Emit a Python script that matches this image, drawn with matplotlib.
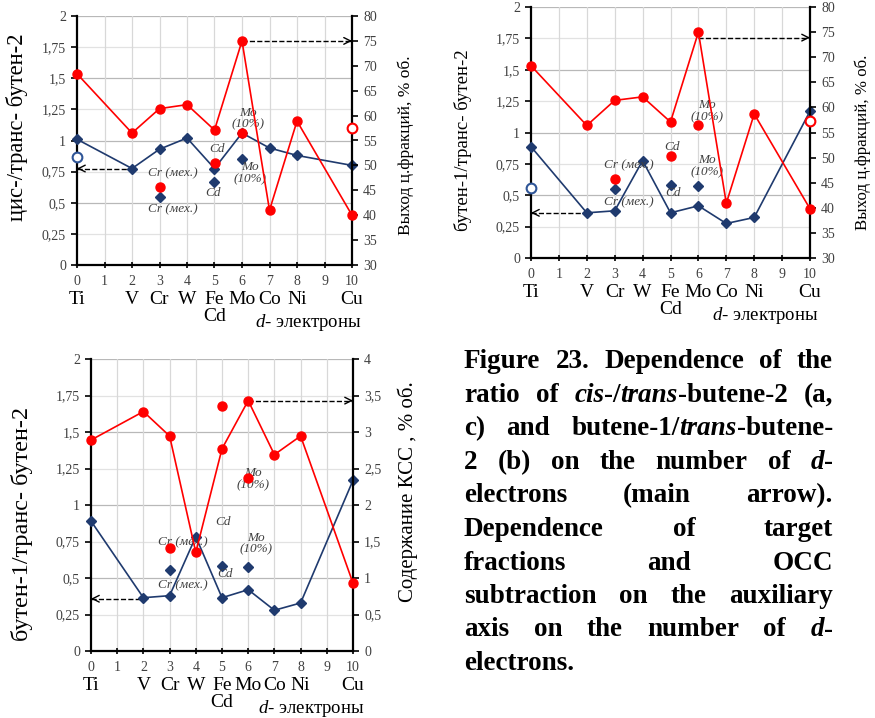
import numpy as np
import matplotlib.pyplot as plt
from matplotlib.ticker import FuncFormatter, MultipleLocator

plt.rcParams['font.family'] = ['Liberation Serif', 'DejaVu Serif']
plt.rcParams['mathtext.fontset'] = 'custom'
plt.rcParams['mathtext.rm'] = 'Liberation Serif'
plt.rcParams['mathtext.it'] = 'Liberation Serif:italic'

# d-electron count for each catalyst metal
d_x = [0, 2, 3, 4, 5, 6, 7, 8, 10]
metals = ['Ti', 'V', 'Cr', 'W', 'Fe', 'Mo', 'Co', 'Ni', 'Cu']
extra_x = [3, 5, 6]   # Cr (mech.), Cd, Mo (10%)

# (a) cis-/trans-butene-2 and target fraction yield
a_ratio = [1.01, 0.775, 0.93, 1.02, 0.775, 1.06, 0.94, 0.88, 0.80]
a_ratio_extra = [0.545, 0.668, 0.85]
a_yield = [68.4, 56.5, 61.4, 62.2, 57.1, 75.0, 41.0, 58.9, 40.0]
a_yield_extra = [45.7, 50.5, 56.5]
a_open = [0.87, 57.5]
a_arrows = [0.775, 75.0]

# (b) butene-1/trans-butene-2 and target fraction yield
b_ratio = [0.887, 0.36, 0.376, 0.776, 0.36, 0.416, 0.275, 0.323, 1.17]
b_ratio_extra = [0.548, 0.585, 0.577]
b_yield = [68.3, 56.4, 61.4, 62.1, 57.1, 75.0, 40.9, 58.7, 39.8]
b_yield_extra = [45.7, 50.3, 56.4]
b_open = [0.556, 57.3]
b_arrows = [0.36, 73.9]

# (c) butene-1/trans-butene-2 and OCC content
c_ratio = [0.89, 0.365, 0.379, 0.783, 0.365, 0.42, 0.279, 0.329, 1.169]
c_ratio_extra = [0.553, 0.584, 0.575]
c_occ = [2.89, 3.28, 2.945, 1.35, 2.77, 3.43, 2.69, 2.945, 0.93]
c_occ_extra = [1.41, 3.36, 2.37]
c_arrows = [0.358, 3.43]

RED = '#ff0000'
BLUE = '#1f3a6e'
GRAY = '#404040'

fig = plt.figure(figsize=(8.75, 7.18), dpi=100)


def comma(v, pos):
    return ('%g' % v).replace('.', ',')


def panel(rect, ratio, ratio_extra, aux, aux_extra, aux_lim, aux_step,
          ylab_l, ylab_r, arrows, opens, notes, lcoord, rcoord, lsizes):
    ax = fig.add_axes(rect)
    ax2 = ax.twinx()

    # grid
    for g in np.arange(0.25, 2.01, 0.25):
        col = '#b8b8b8' if abs(g * 2 - round(g * 2)) < 1e-6 else '#e2e2e2'
        ax.axhline(g, color=col, lw=0.9, zorder=0)
    for g in range(1, 10):
        ax.axvline(g, color='#d8d8d8', lw=0.9, zorder=0)

    ax.plot(d_x, ratio, color=BLUE, lw=1.2, marker='D', ms=5.5,
            clip_on=False, zorder=3)
    ax.plot(extra_x, ratio_extra, ls='none', color=BLUE, marker='D', ms=5.5,
            clip_on=False, zorder=3)
    ax2.plot(d_x, aux, color=RED, lw=1.2, marker='o', ms=6.5,
             clip_on=False, zorder=3)
    ax2.plot(extra_x, aux_extra, ls='none', color=RED, marker='o', ms=6.5,
             clip_on=False, zorder=3)
    if opens is not None:
        ax.plot([0], [opens[0]], ls='none', marker='o', ms=7, mfc='white',
                mec='#2f5597', mew=1.5, clip_on=False, zorder=4)
        ax2.plot([10], [opens[1]], ls='none', marker='o', ms=7, mfc='white',
                 mec=RED, mew=1.5, clip_on=False, zorder=4)

    # dashed arrows pointing to the axis each series belongs to
    ax.plot([0, 2], [arrows[0]] * 2, ls='--', color='black', lw=1, zorder=2)
    ax.annotate('', xy=(0, arrows[0]), xytext=(0.05, arrows[0]),
                arrowprops=dict(arrowstyle='->', color='black', lw=1,
                                shrinkA=0, shrinkB=0, mutation_scale=12))
    ax2.plot([6, 10], [arrows[1]] * 2, ls='--', color='black', lw=1,
             zorder=2, clip_on=False)
    ax2.annotate('', xy=(10, arrows[1]), xytext=(9.95, arrows[1]),
                 arrowprops=dict(arrowstyle='->', color='black', lw=1,
                                 shrinkA=0, shrinkB=0, mutation_scale=12))

    for txt, x, y in notes:
        ax.text(x, y, txt, ha='center', va='center', fontsize=9.5,
                style='italic', color=GRAY, zorder=5, linespacing=1.0)

    ax.set_xlim(0, 10)
    ax.set_ylim(0, 2)
    ax2.set_ylim(*aux_lim)
    ax.set_xticks(range(0, 11))
    ax.yaxis.set_major_locator(MultipleLocator(0.25))
    ax2.yaxis.set_major_locator(MultipleLocator(aux_step))
    ax.yaxis.set_major_formatter(FuncFormatter(comma))
    ax2.yaxis.set_major_formatter(FuncFormatter(comma))

    for a in (ax, ax2):
        a.spines['top'].set_visible(False)
    ax.spines['right'].set_visible(False)
    ax2.spines['left'].set_visible(False)
    ax2.spines['bottom'].set_visible(False)
    ax.spines['left'].set_linewidth(1.6)
    ax.spines['bottom'].set_linewidth(1.6)
    ax2.spines['right'].set_linewidth(1.6)

    ax.tick_params(axis='y', direction='out', length=4, width=1.2,
                   labelsize=10, labelcolor=GRAY, pad=4)
    ax2.tick_params(axis='y', direction='out', length=4, width=1.2,
                    labelsize=10, labelcolor=GRAY, pad=4)
    ax.tick_params(axis='x', direction='inout', length=4, width=1.2,
                   labelsize=10, labelcolor=GRAY, pad=5)

    for x, m in zip(d_x, metals):
        ax.annotate(m, xy=(x, 0), xycoords=('data', 'axes fraction'),
                    xytext=(0, -19), textcoords='offset points',
                    ha='center', va='top', fontsize=14)
    ax.annotate('Cd', xy=(5, 0), xycoords=('data', 'axes fraction'),
                xytext=(0, -31), textcoords='offset points',
                ha='center', va='top', fontsize=14)
    ax.annotate(r'$d$- электроны', xy=(8.4, 0),
                xycoords=('data', 'axes fraction'),
                xytext=(0, -34), textcoords='offset points',
                ha='center', va='top', fontsize=13.5)

    ax.set_ylabel(ylab_l, fontsize=lsizes[0])
    ax2.set_ylabel(ylab_r, fontsize=lsizes[1])
    ax.yaxis.set_label_coords(*lcoord)
    ax2.yaxis.set_label_coords(*rcoord)
    return ax


W, H = 875.0, 718.0


def rect(l, r, t, b):
    return [l / W, 1 - b / H, (r - l) / W, (b - t) / H]


notes_a = [('Mo\n(10%)', 6.22, 1.175), ('Cd', 5.08, 0.93),
           ('Cr (мех.)', 3.48, 0.74), ('Cr (мех.)', 3.5, 0.447),
           ('Cd', 4.96, 0.576), ('Mo\n(10%)', 6.29, 0.737)]
notes_b = [('Mo\n(10%)', 6.3, 1.17), ('Cd', 5.04, 0.887),
           ('Cr (мех.)', 3.49, 0.741), ('Cr (мех.)', 3.49, 0.443),
           ('Cd', 5.1, 0.52), ('Mo\n(10%)', 6.3, 0.73)]
notes_c = [('Mo\n(10%)', 6.19, 1.178), ('Cd', 5.03, 0.886),
           ('Cr (мех.)', 3.5, 0.744), ('Cr (мех.)', 3.52, 0.447),
           ('Cd', 5.12, 0.527), ('Mo\n(10%)', 6.3, 0.735)]

panel(rect(77, 352, 16, 265), a_ratio, a_ratio_extra, a_yield, a_yield_extra,
      (30, 80), 5, 'цис-/транс- бутен-2', 'Выход ц.фракций, % об.',
      a_arrows, a_open, notes_a, (-0.178, 0.554), (1.167, 0.48), (16.3, 12.5))
panel(rect(531, 810, 7, 258), b_ratio, b_ratio_extra, b_yield, b_yield_extra,
      (30, 80), 5, 'бутен-1/транс- бутен-2', 'Выход ц.фракций, % об.',
      b_arrows, b_open, notes_b, (-0.211, 0.47), (1.161, 0.46), (13.5, 12.2))
panel(rect(91, 353, 359, 651), c_ratio, c_ratio_extra, c_occ, c_occ_extra,
      (0, 4), 0.5, 'бутен-1/транс- бутен-2', 'Содержание КСС , % об.',
      c_arrows, None, notes_c, (-0.221, 0.435), (1.168, 0.545), (17.5, 15))

# caption, justified by hand (underscores mark italic runs)
caption = [
    'Figure 23. Dependence of the',
    'ratio of _cis_-/_trans_-butene-2 (a,',
    'c) and butene-1/_trans_-butene-',
    '2 (b) on the number of _d_-',
    'electrons (main arrow).',
    'Dependence of target',
    'fractions and OCC',
    'subtraction on the auxiliary',
    'axis on the number of _d_-',
    'electrons.',
]
cap_x0, cap_x1 = 464 / W, 833 / W
cap_base, cap_step, cap_fs = 368.5, 33.5, 19.5
rend = fig.canvas.get_renderer()
for i, line in enumerate(caption):
    yb = 1 - (cap_base + i * cap_step) / H
    words = []
    for w in line.split(' '):
        parts = w.split('_')
        runs = []
        for k, p in enumerate(parts):
            if not p:
                continue
            t = fig.text(0, yb, p, fontsize=cap_fs, fontweight='bold',
                         style='italic' if k % 2 else 'normal',
                         va='baseline', ha='left')
            runs.append((t, t.get_window_extent(rend).width / W))
        words.append(runs)
    widths = [sum(wd for _, wd in runs) for runs in words]
    if i < len(caption) - 1 and len(words) > 1:
        gap = (cap_x1 - cap_x0 - sum(widths)) / (len(words) - 1)
    else:
        gap = 6 / W
    x = cap_x0
    for runs, wsum in zip(words, widths):
        xr = x
        for t, wd in runs:
            t.set_x(xr)
            xr += wd
        x += wsum + gap

fig.savefig('out.png', dpi=100)
